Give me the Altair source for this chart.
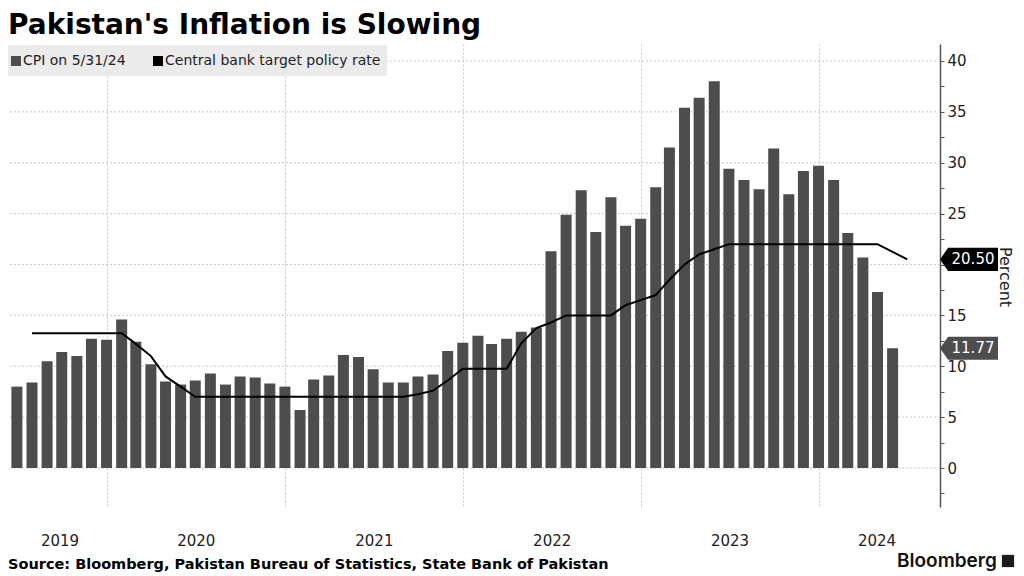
import altair as alt
import pandas as pd

# ---------------- data ----------------
title_text = "Pakistan's Inflation is Slowing"
source_text = "Source: Bloomberg, Pakistan Bureau of Statistics, State Bank of Pakistan"
legend_labels = ["CPI on 5/31/24", "Central bank target policy rate"]
axis_title = "Percent"
brand_text = "Bloomberg"

# Pakistan CPI YoY, month-end Jun 2019 .. May 2024
cpi_values = [
    8.0, 8.4, 10.5, 11.4, 11.0, 12.7, 12.6,
    14.6, 12.4, 10.2, 8.5, 8.2, 8.6, 9.3, 8.2, 9.0, 8.9, 8.3, 8.0,
    5.7, 8.7, 9.1, 11.1, 10.9, 9.7, 8.4, 8.4, 9.0, 9.2, 11.5, 12.3,
    13.0, 12.2, 12.7, 13.4, 13.8, 21.3, 24.9, 27.3, 23.2, 26.6, 23.8, 24.5,
    27.6, 31.5, 35.4, 36.4, 38.0, 29.4, 28.3, 27.4, 31.4, 26.9, 29.2, 29.7,
    28.3, 23.1, 20.7, 17.3, 11.77,
]
# Central bank target policy rate, month-end Jul 2019 .. Jun 2024
rate_values = [
    13.25, 13.25, 13.25, 13.25, 13.25, 13.25,
    13.25, 12.2, 11.0, 9.0, 8.0, 7.0, 7.0, 7.0, 7.0, 7.0, 7.0, 7.0,
    7.0, 7.0, 7.0, 7.0, 7.0, 7.0, 7.0, 7.0, 7.25, 7.6, 8.6, 9.75,
    9.75, 9.75, 9.75, 12.25, 13.75, 14.3, 15.0, 15.0, 15.0, 15.0, 16.0, 16.5,
    17.0, 18.5, 20.0, 21.0, 21.5, 22.0, 22.0, 22.0, 22.0, 22.0, 22.0, 22.0,
    22.0, 22.0, 22.0, 22.0, 21.25, 20.5,
]
y_tick_labels = [0, 5, 10, 15, 20, 25, 30, 35, 40]
y_minor_ticks = [-2.5, 2.5, 7.5, 12.5, 17.5, 22.5, 27.5, 32.5, 37.5]
year_labels = [2019, 2020, 2021, 2022, 2023, 2024]

cpi_dates = pd.date_range("2019-07-01", periods=len(cpi_values), freq="MS") - pd.Timedelta(days=1)
rate_dates = pd.date_range("2019-08-01", periods=len(rate_values), freq="MS") - pd.Timedelta(days=1)

cpi_df = pd.DataFrame({"date": cpi_dates, "value": cpi_values})
rate_df = pd.DataFrame({"date": rate_dates, "value": rate_values})
grid_df = pd.DataFrame({"value": y_tick_labels})

# ---------------- layout ----------------
W, H = 932, 463
x_start = pd.Timestamp("2019-06-22")
x_end = pd.Timestamp("2024-08-26")
x_domain = [
    alt.DateTime(year=x_start.year, month=x_start.month, date=x_start.day),
    alt.DateTime(year=x_end.year, month=x_end.month, date=x_end.day),
]
y_domain = [-3.83, 41.67]

# year labels centred on the visible part of each year
yl_dates = []
for yr in year_labels:
    a = max(pd.Timestamp(year=yr, month=1, day=1), x_start)
    b = min(pd.Timestamp(year=yr + 1, month=1, day=1), x_end)
    yl_dates.append(a + (b - a) / 2)
year_df = pd.DataFrame({"date": yl_dates, "label": [str(y) for y in year_labels]})

FONT = "DejaVu Sans"
BAR = "#4d4d4d"
GRID = "#c8c8c8"

hide_expr = f"abs(datum.value - {rate_values[-1]}) < 1.3"

x_axis = alt.Axis(
    grid=True, gridDash=[2, 2], gridColor=GRID, gridWidth=1,
    labels=False, ticks=False, domain=False, title=None,
    values=[alt.DateTime(year=y, month=1, date=1) for y in year_labels[1:]],
)
x_scale = alt.Scale(domain=x_domain)
y_scale = alt.Scale(domain=y_domain, nice=False, zero=False)
y_axis = alt.Axis(
    orient="right", values=sorted(y_tick_labels + y_minor_ticks),
    labelExpr=f"(datum.value % 5 == 0 && datum.value >= 0 && !({hide_expr})) ? datum.label : ''",
    grid=False, tickSize=4, tickColor="#555555", domainColor="#555555",
    domainWidth=1.5, labelFontSize=15, labelColor="#222222", labelFont=FONT,
    labelPadding=3, title=None,
)


def X():
    return alt.X("date:T", scale=x_scale, axis=x_axis)


def Y():
    return alt.Y("value:Q", scale=y_scale, axis=y_axis)


hgrid = alt.Chart(grid_df).mark_rule(color=GRID, strokeDash=[2, 2], strokeWidth=1).encode(
    y=Y()
)

bars = alt.Chart(cpi_df).mark_bar(color=BAR, size=11).encode(x=X(), y=Y())

line = alt.Chart(rate_df).mark_line(color="#000000", strokeWidth=2).encode(x=X(), y=Y())

LABEL_PATH = "M -1 0 L -0.72 -0.4 L 1 -0.4 L 1 0.4 L -0.72 0.4 Z"
last_rate = pd.DataFrame({"value": [rate_values[-1]], "txt": [f"{rate_values[-1]:.2f}"]})
last_cpi = pd.DataFrame({"value": [cpi_values[-1]], "txt": [f"{cpi_values[-1]:.2f}"]})

rate_tag = alt.Chart(last_rate).mark_point(
    shape=LABEL_PATH, size=58 * 58, filled=True, fill="#000000", opacity=1, strokeWidth=0
).encode(x=alt.value(W + 29), y=Y())
rate_tag_txt = alt.Chart(last_rate).mark_text(
    color="white", font=FONT, fontSize=15, align="center", baseline="middle"
).encode(x=alt.value(W + 33), y=Y(), text="txt:N")
cpi_tag = alt.Chart(last_cpi).mark_point(
    shape=LABEL_PATH, size=58 * 58, filled=True, fill=BAR, opacity=1, strokeWidth=0
).encode(x=alt.value(W + 29), y=Y())
cpi_tag_txt = alt.Chart(last_cpi).mark_text(
    color="white", font=FONT, fontSize=15, align="center", baseline="middle"
).encode(x=alt.value(W + 33), y=Y(), text="txt:N")

one = pd.DataFrame({"k": [0]})

legend_box = alt.Chart(one).mark_rect(color="#ebebeb").encode(
    x=alt.value(0), x2=alt.value(379), y=alt.value(1), y2=alt.value(32)
)
leg_sq1 = alt.Chart(one).mark_square(size=100, color=BAR, opacity=1).encode(
    x=alt.value(8), y=alt.value(17)
)
leg_sq2 = alt.Chart(one).mark_square(size=100, color="#000000", opacity=1).encode(
    x=alt.value(150), y=alt.value(17)
)
leg_t1 = alt.Chart(one).mark_text(
    text=legend_labels[0], font=FONT, fontSize=14, color="#222222", align="left", baseline="middle"
).encode(x=alt.value(15), y=alt.value(17))
leg_t2 = alt.Chart(one).mark_text(
    text=legend_labels[1], font=FONT, fontSize=14, color="#222222", align="left", baseline="middle"
).encode(x=alt.value(157), y=alt.value(17))

title = alt.Chart(one).mark_text(
    text=title_text, font=FONT, fontSize=28, fontWeight="bold", color="#000000",
    align="left", baseline="alphabetic"
).encode(x=alt.value(0), y=alt.value(-10))

source = alt.Chart(one).mark_text(
    text=source_text, font=FONT, fontSize=14.5, fontWeight="bold", color="#000000",
    align="left", baseline="middle"
).encode(x=alt.value(0), y=alt.value(H + 58))

brand = alt.Chart(one).mark_text(
    text=brand_text, font="Inter", fontSize=19, fontWeight=600, color="#111111",
    align="left", baseline="middle"
).encode(x=alt.value(889), y=alt.value(H + 54))
brand_icon = alt.Chart(one).mark_square(size=150, color="#1a1a1a", opacity=1).encode(
    x=alt.value(1000), y=alt.value(H + 54)
)

percent = alt.Chart(one).mark_text(
    text=axis_title, font=FONT, fontSize=16, color="#222222", angle=90,
    align="center", baseline="middle"
).encode(x=alt.value(997), y=alt.value(233))

years = alt.Chart(year_df).mark_text(
    font=FONT, fontSize=15, color="#222222", align="center", baseline="middle"
).encode(x=X(), y=alt.value(H + 34), text="label:N")

chart = alt.layer(
    hgrid, bars, line, rate_tag, rate_tag_txt, cpi_tag, cpi_tag_txt,
    legend_box, leg_sq1, leg_sq2, leg_t1, leg_t2,
    title, source, brand, brand_icon, percent, years,
).properties(
    width=W, height=H,
    autosize=alt.AutoSizeParams(type="none"),
    padding={"left": 0, "top": 36, "right": 76, "bottom": 66},
    background="white",
).configure_view(stroke=None)

chart.save("out.html", embed_options={"renderer": "svg", "actions": False})
